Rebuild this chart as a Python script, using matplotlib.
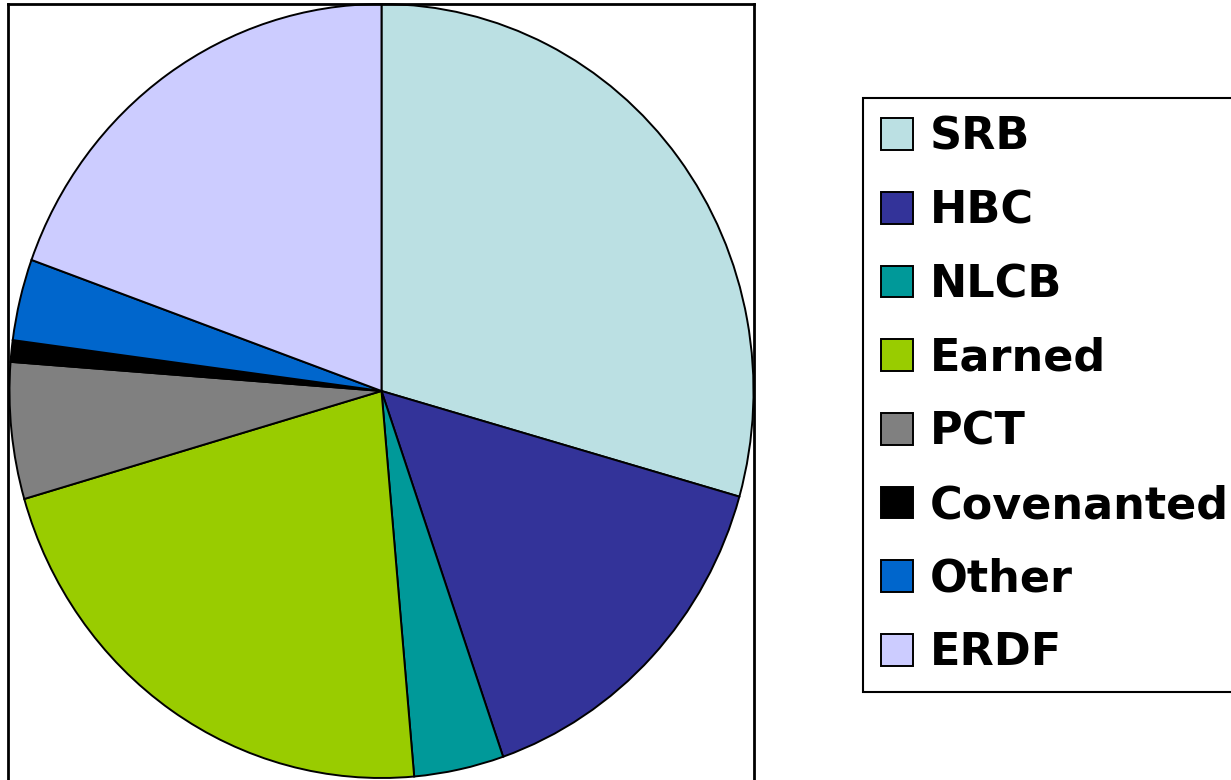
import matplotlib
matplotlib.use('Agg')
import matplotlib.pyplot as plt

labels = ['SRB', 'HBC', 'NLCB', 'Earned', 'PCT', 'Covenanted', 'Other', 'ERDF']
values = [29.4, 15.3, 3.9, 21.9, 5.7, 0.9, 3.4, 19.5]
colors = ['#BBE0E3', '#333399', '#009999', '#99CC00', '#808080', '#000000', '#0066CC', '#CCCCFF']

W, H = 1231, 780
fig = plt.figure(figsize=(W / 100, H / 100), dpi=100)

# plot area in pixels (the bottom runs off the picture)
left, right, top, bottom = 8, 754, 4, -6
ax = fig.add_axes([left / W, bottom / H, (right - left) / W, (H - top - bottom) / H])

wedges, _ = ax.pie(values, colors=colors, startangle=90, counterclock=False,
                   radius=1.0, wedgeprops=dict(edgecolor='black', linewidth=1.4))
ax.set_aspect('auto')
cx, cy, rx, ry = 381.5, H - 391, 372, 387
ax.set_xlim((left - cx) / rx, (right - cx) / rx)
ax.set_ylim((bottom - cy) / ry, (H - top - cy) / ry)
ax.set_frame_on(True)
ax.set_xticks([])
ax.set_yticks([])
for s in ax.spines.values():
    s.set_visible(True)
    s.set_linewidth(2)
    s.set_color('black')

leg = fig.legend(wedges, labels, loc='upper left', bbox_to_anchor=(863 / W, 1 - 98 / H),
                 prop=dict(family='DejaVu Sans', weight='bold', size=32),
                 handlelength=0.72, handleheight=0.72, handletextpad=0.38,
                 labelspacing=0.69, borderpad=0.4, borderaxespad=0,
                 fancybox=False, frameon=True, framealpha=1)
leg.get_frame().set_edgecolor('black')
leg.get_frame().set_linewidth(1.5)

plt.savefig('out.png', dpi=100)
